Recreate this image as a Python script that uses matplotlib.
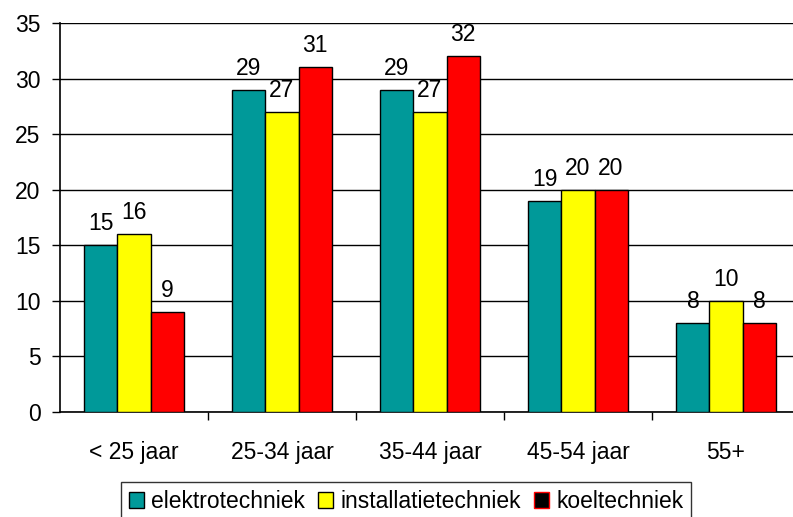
import matplotlib
import matplotlib.pyplot as plt
import numpy as np
from matplotlib.patches import Patch

matplotlib.use("Agg")
plt.rcParams["font.family"] = ["Liberation Sans", "DejaVu Sans"]

categories = ["< 25 jaar", "25-34 jaar", "35-44 jaar", "45-54 jaar", "55+"]
series_names = ["elektrotechniek", "installatietechniek", "koeltechniek"]
elektro = [15, 29, 29, 19, 8]
installatie = [16, 27, 27, 20, 10]
koel = [9, 31, 32, 20, 8]

_COLORS = ["#009999", "#FFFF00", "#FF0000"]
FS = 16.5

fig = plt.figure(figsize=(7.93, 5.17), dpi=100)
# axes run slightly past the right edge of the picture, as in the source
ax = fig.add_axes([60 / 793, 1 - 412 / 517, 740 / 793, 389 / 517])

x = np.arange(len(categories))
w = 0.223
for i, (vals, col) in enumerate(zip([elektro, installatie, koel], _COLORS)):
    pos = x + (i - 1) * w
    ax.bar(pos, vals, width=w, color=col, edgecolor="black", linewidth=1.0, zorder=3)
    for p, v in zip(pos, vals):
        ax.text(p, v + 1.35, str(v), ha="center", va="baseline", fontsize=FS, zorder=4)

ax.set_xlim(-0.5, len(categories) - 0.5)
ax.set_ylim(0, 35)
ax.set_yticks(np.arange(0, 36, 5))
ax.yaxis.grid(True, color="black", lw=1.0, zorder=0)
ax.set_axisbelow(True)

ax.set_xticks(x)
ax.set_xticklabels(categories, fontsize=FS)
ax.set_xticks(np.arange(0.5, len(categories) - 0.5, 1), minor=True)
ax.tick_params(axis="x", which="major", length=0, pad=21)
ax.tick_params(axis="x", which="minor", length=6, width=1.0, color="black")
ax.tick_params(axis="y", length=6, width=1.0, labelsize=FS, pad=8)

for s in ["top", "right"]:
    ax.spines[s].set_visible(False)
for s in ["left", "bottom"]:
    ax.spines[s].set_linewidth(1.2)

handles = [
    Patch(facecolor=_COLORS[0], edgecolor="black", label=series_names[0]),
    Patch(facecolor=_COLORS[1], edgecolor="black", label=series_names[1]),
    Patch(facecolor="black", edgecolor="#FF0000", label=series_names[2]),
]
leg = fig.legend(
    handles=handles,
    loc="upper center",
    bbox_to_anchor=(406 / 793, 1 - 482 / 517),
    ncol=3,
    fontsize=FS,
    frameon=True,
    fancybox=False,
    handlelength=0.65,
    handleheight=0.65,
    handletextpad=0.3,
    columnspacing=0.6,
    borderpad=0.35,
    borderaxespad=0,
)
leg.get_frame().set_edgecolor("black")
leg.get_frame().set_linewidth(1.0)

fig.savefig("out.png", dpi=100)
